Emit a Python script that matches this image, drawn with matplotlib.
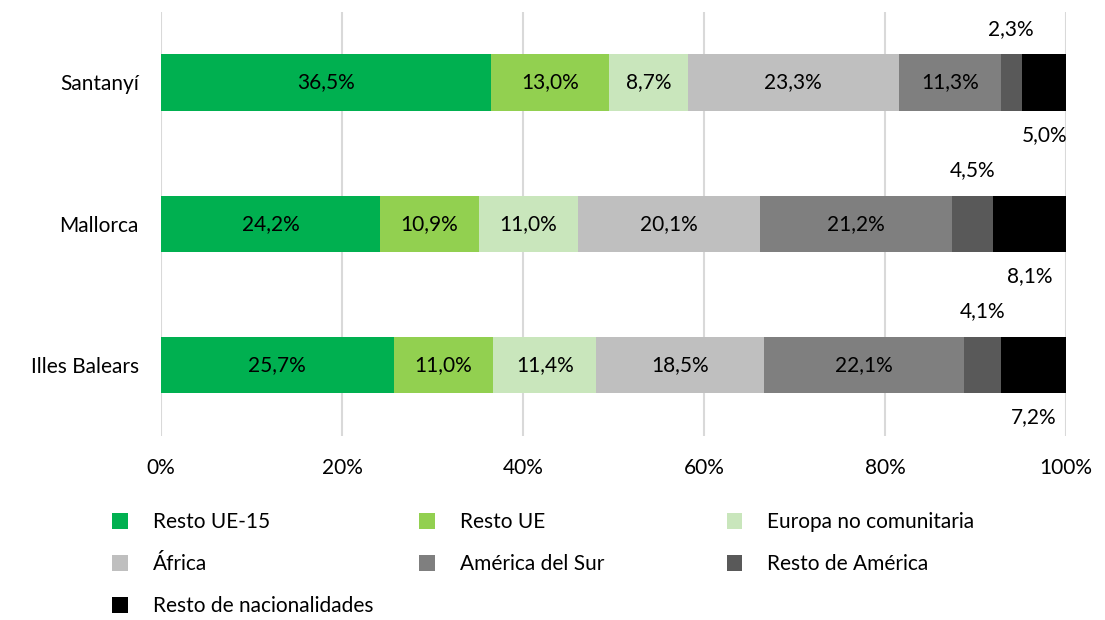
import matplotlib
matplotlib.use('Agg')
import matplotlib.pyplot as plt
from matplotlib.patches import Patch
import numpy as np

plt.rcParams['font.family'] = ['Lato', 'DejaVu Sans']

regions = ['Santanyí', 'Mallorca', 'Illes Balears']
series = ['Resto UE-15', 'Resto UE', 'Europa no comunitaria', 'África',
          'América del Sur', 'Resto de América', 'Resto de nacionalidades']
values = {
    'Resto UE-15': [36.5, 24.2, 25.7],
    'Resto UE': [13.0, 10.9, 11.0],
    'Europa no comunitaria': [8.7, 11.0, 11.4],
    'África': [23.3, 20.1, 18.5],
    'América del Sur': [11.3, 21.2, 22.1],
    'Resto de América': [2.3, 4.5, 4.1],
    'Resto de nacionalidades': [5.0, 8.1, 7.2],
}
colors = ['#00B050', '#92D050', '#C9E6BC', '#BFBFBF', '#7F7F7F', '#595959', '#000000']
xticks = [0, 20, 40, 60, 80, 100]

fig = plt.figure(figsize=(11.05, 6.2), dpi=100)
ax = fig.add_axes([0.1457, 0.297, 0.819, 0.684])

y = np.arange(len(regions))
bar_h = 0.4
left = np.zeros(len(regions))
for i, name in enumerate(series):
    vals = np.array(values[name])
    ax.barh(y, vals, left=left, height=bar_h, color=colors[i], zorder=2)
    for j, v in enumerate(vals):
        cx = left[j] + v / 2
        txt = f'{v:.1f}%'.replace('.', ',')
        if name == 'Resto de América':
            # small segment: label above the bar
            ax.text(cx, y[j] - bar_h / 2 - 0.18, txt, ha='center', va='center', fontsize=15)
        elif name == 'Resto de nacionalidades':
            # label below the bar
            ax.text(cx, y[j] + bar_h / 2 + 0.17, txt, ha='center', va='center', fontsize=15)
        else:
            ax.text(cx, y[j], txt, ha='center', va='center', fontsize=15)
    left += vals

ax.set_xlim(0, 100)
ax.set_ylim(len(regions) - 0.5, -0.5)
ax.set_yticks(y)
ax.set_yticklabels(regions, fontsize=15)
ax.set_xticks(xticks)
ax.set_xticklabels([f'{t}%' for t in xticks], fontsize=15)
ax.tick_params(axis='y', length=0, pad=16)
ax.tick_params(axis='x', length=0, pad=16)
ax.grid(axis='x', color='#D9D9D9', linewidth=1.5, zorder=0)
for s in ax.spines.values():
    s.set_visible(False)

# legend laid out row by row in three columns
handles = [Patch(facecolor=c, edgecolor='none') for c in colors]
col_x = [0.094, 0.372, 0.650]
for c in range(3):
    idx = list(range(c, len(series), 3))
    fig.legend([handles[k] for k in idx], [series[k] for k in idx],
               loc='upper left', bbox_to_anchor=(col_x[c], 0.187),
               frameon=False, fontsize=15, handlelength=0.75, handleheight=0.75,
               handletextpad=1.2, labelspacing=1.05, borderaxespad=0)

fig.savefig('out.png', dpi=100)
